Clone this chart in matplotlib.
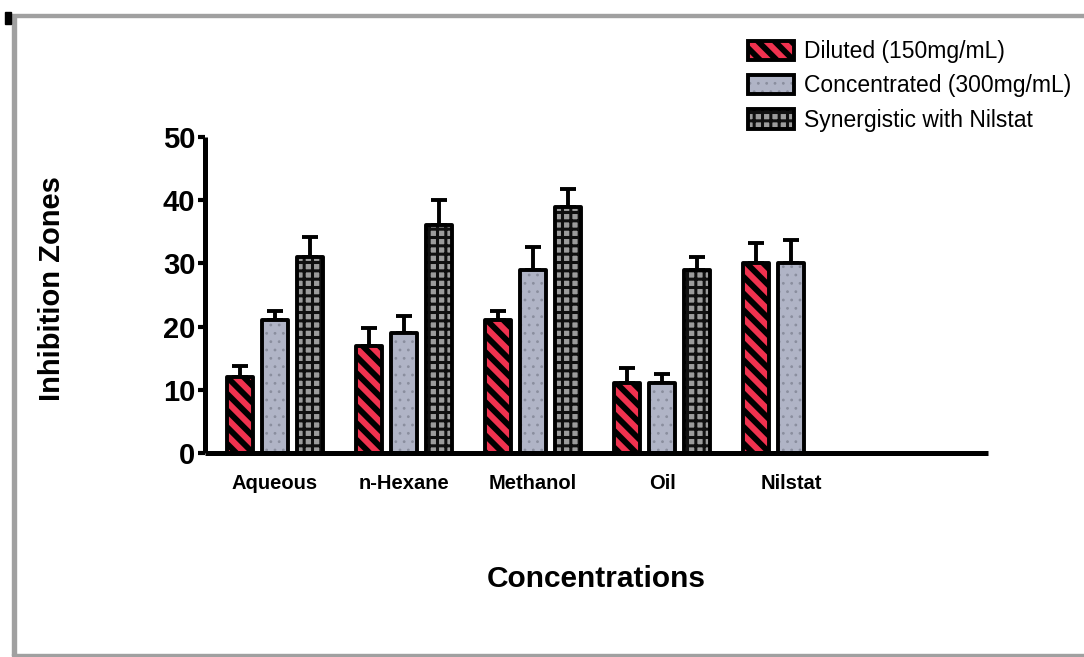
import numpy as np
import matplotlib
matplotlib.use('Agg')
import matplotlib.pyplot as plt
from matplotlib.patches import Patch, Rectangle

plt.rcParams['font.family'] = ['Liberation Sans', 'DejaVu Sans']

# -------------------------------------------------------
categories = ['Aqueous', 'n-Hexane', 'Methanol', 'Oil', 'Nilstat']
series     = ['Diluted (150mg/mL)', 'Concentrated (300mg/mL)', 'Synergistic with Nilstat']

diluted      = [12, 17, 21, 11, 30]
diluted_err  = [1.8, 2.7, 1.5, 2.5, 3.3]
concentr     = [21, 19, 29, 11, 30]
concentr_err = [1.5, 2.6, 3.6, 1.5, 3.7]
synergy      = [31, 36, 39, 29, None]
synergy_err  = [3.2, 4.0, 2.7, 2.0, None]
# -------------------------------------------------------
styles = [
    dict(face='#f0324f', hatch_col='black',   hatch='\\\\', hlw=4.2),
    dict(face='#b0b4c6', hatch_col='#8a8e9e', hatch='..',   hlw=0.8),
    dict(face='#9c9c9c', hatch_col='#101010', hatch='++',   hlw=2.2),
]

fig = plt.figure(figsize=(10.84, 6.57), dpi=100)
ax  = fig.add_axes([205 / 1084, 1 - 453 / 657, 783 / 1084, 316 / 657])

width  = 0.2
offset = 0.27
x      = np.arange(len(categories))

handles = []
for i, (vals, errs) in enumerate([(diluted, diluted_err),
                                  (concentr, concentr_err),
                                  (synergy, synergy_err)]):
    st   = styles[i]
    keep = [j for j, v in enumerate(vals) if v is not None]
    xs   = x[keep] + (i - 1) * offset
    hs   = np.array([vals[j] for j in keep], dtype=float)
    es   = np.array([errs[j] for j in keep], dtype=float)

    ax.errorbar(xs, hs, yerr=[np.zeros_like(es), es], fmt='none', ecolor='black',
                elinewidth=2.8, capsize=6, capthick=2.8, zorder=1)
    with plt.rc_context({'hatch.linewidth': st['hlw']}):
        ax.bar(xs, hs, width=width, color=st['face'], edgecolor=st['hatch_col'],
               hatch=st['hatch'], linewidth=0, zorder=2)
        fill = Patch(facecolor=st['face'], edgecolor=st['hatch_col'], hatch=st['hatch'], linewidth=0)
    ax.bar(xs, hs, width=width, fill=False, edgecolor='black', linewidth=2.8,
           joinstyle='round', zorder=3)

    edge = Patch(fill=False, edgecolor='black', linewidth=2.8, joinstyle='round')
    handles.append((fill, edge))

ax.set_xlim(-0.543, 5.527)
ax.set_ylim(0, 50)
ax.set_yticks([0, 10, 20, 30, 40, 50])
ax.set_xticks(x)
ax.set_xticklabels(categories, fontsize=14.5, fontweight='bold')
ax.tick_params(axis='x', length=0, pad=15)
ax.tick_params(axis='y', length=5, width=3, pad=2, labelsize=21)
for lab in ax.get_yticklabels():
    lab.set_fontweight('bold')

for side in ['top', 'right']:
    ax.spines[side].set_visible(False)
for side in ['left', 'bottom']:
    ax.spines[side].set_linewidth(3.6)
    ax.spines[side].set_capstyle('butt')

ax.set_ylabel('Inhibition Zones', fontsize=21, fontweight='bold')
ax.yaxis.set_label_coords(-0.178, 0.52)
ax.set_xlabel('Concentrations', fontsize=21.5, fontweight='bold')
ax.xaxis.set_label_coords(0.5, -0.355)

leg = fig.legend(handles, series, loc='upper left', bbox_to_anchor=(748 / 1084, 1 - 40 / 657),
                 frameon=False, fontsize=16.5, handlelength=2.0, handleheight=0.9,
                 handletextpad=0.45, labelspacing=0.5, borderaxespad=0, borderpad=0)

# legend swatches get the same hatch weight as the bars
for patch in leg.findobj(Rectangle):
    for st in styles:
        if patch.get_hatch() == st['hatch'] and hasattr(patch, 'set_hatch_linewidth'):
            patch.set_hatch_linewidth(st['hlw'])

# page border around the chart
border = dict(transform=fig.transFigure, color='#a0a0a0', zorder=0)
fig.add_artist(Rectangle((8 / 1084, 1 - 17 / 657), 1, 3 / 657, **border))
fig.add_artist(Rectangle((12 / 1084, 1 - 655 / 657), 4 / 1084, 640 / 657, **border))
fig.add_artist(Rectangle((12 / 1084, 1 - 656 / 657), 1, 2 / 657, **border))
fig.add_artist(Rectangle((5 / 1084, 1 - 24 / 657), 6 / 1084, 12 / 657,
                         transform=fig.transFigure, color='black', zorder=1))

fig.savefig('out.png', dpi=100)
